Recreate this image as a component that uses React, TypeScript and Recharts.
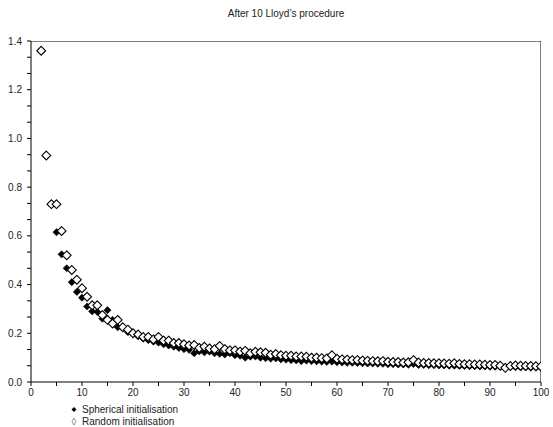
import React from 'react';
import { ScatterChart, Scatter, XAxis, YAxis } from 'recharts';

// iteration count (number of clusters) on the x axis
const iterations = [
  2, 3, 4, 5, 6, 7, 8, 9, 10, 11, 12, 13, 14, 15, 16, 17, 18, 19, 20, 21,
  22, 23, 24, 25, 26, 27, 28, 29, 30, 31, 32, 33, 34, 35, 36, 37, 38, 39, 40, 41,
  42, 43, 44, 45, 46, 47, 48, 49, 50, 51, 52, 53, 54, 55, 56, 57, 58, 59, 60, 61,
  62, 63, 64, 65, 66, 67, 68, 69, 70, 71, 72, 73, 74, 75, 76, 77, 78, 79, 80, 81,
  82, 83, 84, 85, 86, 87, 88, 89, 90, 91, 92, 93, 94, 95, 96, 97, 98, 99, 100
];

const spherical = [
  1.36, 0.93, 0.73, 0.615, 0.524, 0.467, 0.41, 0.37, 0.346, 0.31, 0.29, 0.288, 0.26, 0.295, 0.255, 0.225, 0.22, 0.205, 0.198, 0.188,
  0.178, 0.172, 0.166, 0.162, 0.155, 0.15, 0.145, 0.14, 0.135, 0.132, 0.118, 0.126, 0.122, 0.125, 0.118, 0.116, 0.113, 0.118, 0.11, 0.108,
  0.1, 0.104, 0.105, 0.1, 0.098, 0.096, 0.097, 0.093, 0.092, 0.09, 0.089, 0.086, 0.088, 0.086, 0.085, 0.084, 0.083, 0.084, 0.081, 0.08,
  0.079, 0.079, 0.078, 0.077, 0.076, 0.076, 0.075, 0.075, 0.073, 0.073, 0.072, 0.072, 0.071, 0.074, 0.07, 0.07, 0.069, 0.069, 0.068, 0.068,
  0.067, 0.067, 0.066, 0.066, 0.065, 0.065, 0.064, 0.064, 0.063, 0.063, 0.062, 0.06, 0.061, 0.061, 0.06, 0.06, 0.059, 0.059, 0.058
];

const random = [
  1.36, 0.93, 0.73, 0.73, 0.62, 0.52, 0.46, 0.42, 0.385, 0.35, 0.315, 0.315, 0.275, 0.255, 0.24, 0.255, 0.225, 0.215, 0.2, 0.195,
  0.185, 0.185, 0.175, 0.185, 0.17, 0.17, 0.16, 0.16, 0.155, 0.15, 0.152, 0.14, 0.145, 0.138, 0.135, 0.148, 0.135, 0.13, 0.13, 0.125,
  0.128, 0.118, 0.124, 0.122, 0.12, 0.112, 0.115, 0.11, 0.108, 0.108, 0.105, 0.105, 0.104, 0.1, 0.1, 0.098, 0.097, 0.11, 0.095, 0.093,
  0.092, 0.09, 0.09, 0.088, 0.087, 0.086, 0.085, 0.086, 0.083, 0.082, 0.082, 0.08, 0.081, 0.09, 0.08, 0.078, 0.078, 0.077, 0.077, 0.076,
  0.075, 0.077, 0.074, 0.073, 0.073, 0.072, 0.072, 0.071, 0.07, 0.07, 0.067, 0.058, 0.066, 0.068, 0.067, 0.066, 0.066, 0.065, 0.064
];

// corners of the plot box edges (top-left, top-right, bottom-right) in data units
const frameX = [0, 100, 100];
const frameY = [1.4, 1.4, 0];

const xTicks = [0, 5, 10, 15, 20, 25, 30, 35, 40, 45, 50, 55, 60, 65, 70, 75, 80, 85, 90, 95, 100];
const xLabels = [0, 10, 20, 30, 40, 50, 60, 70, 80, 90, 100];
const yTicks = [
  0, 0.0667, 0.1333, 0.2, 0.2667, 0.3333, 0.4, 0.4667, 0.5333, 0.6, 0.6667, 0.7333,
  0.8, 0.8667, 0.9333, 1.0, 1.0667, 1.1333, 1.2, 1.2667, 1.3333, 1.4
];
const yLabels = [0, 0.2, 0.4, 0.6, 0.8, 1.0, 1.2, 1.4];

const sphericalData = iterations.map((x, i) => ({ x, y: spherical[i] }));
const randomData = iterations.map((x, i) => ({ x, y: random[i] }));
const frameData = frameX.map((x, i) => ({ x, y: frameY[i] }));

const FONT = '"Liberation Sans", Arial, Helvetica, sans-serif';

const diamond = (fill: string, r: number, sw: number) => (props: any) => {
  const { cx, cy } = props;
  if (cx == null || cy == null) return <g />;
  return (
    <polygon
      points={`${cx},${cy - r} ${cx + r},${cy} ${cx},${cy + r} ${cx - r},${cy}`}
      fill={fill}
      stroke="#000"
      strokeWidth={sw}
    />
  );
};

const NoDot = () => <g />;

const XTick = (props: any) => {
  const { x, y, payload } = props;
  if (!xLabels.some(v => Math.abs(v - payload.value) < 1e-6)) return <g />;
  return (
    <text x={x} y={y + 8} textAnchor="middle" fontSize={10} fontFamily={FONT} fill="#222">
      {payload.value}
    </text>
  );
};

const YTick = (props: any) => {
  const { x, y, payload } = props;
  if (!yLabels.some(v => Math.abs(v - payload.value) < 1e-3)) return <g />;
  return (
    <text x={x - 3} y={y + 3.5} textAnchor="end" fontSize={10} fontFamily={FONT} fill="#222">
      {payload.value.toFixed(1)}
    </text>
  );
};

const App: React.FC = () => {
  return (
    <div style={{ position: 'absolute', left: 0, top: 0, width: 553, height: 427, background: '#fff' }}>
      <div style={{
        position: 'absolute', left: 31, width: 510, top: 8, textAlign: 'center',
        fontFamily: FONT, fontSize: 10, color: '#222', lineHeight: '12px'
      }}>
        After 10 Lloyd’s procedure
      </div>
      <div style={{ position: 'absolute', left: 0, top: 0 }}>
        <ScatterChart width={553} height={427} margin={{ top: 41, right: 12, bottom: 25, left: 0 }}>
          <XAxis
            type="number"
            dataKey="x"
            domain={[0, 100]}
            ticks={xTicks}
            tick={<XTick />}
            tickSize={4}
            tickLine={{ stroke: '#000' }}
            axisLine={{ stroke: '#000' }}
            height={20}
            interval={0}
            allowDataOverflow
          />
          <YAxis
            type="number"
            dataKey="y"
            domain={[0, 1.4]}
            ticks={yTicks}
            tick={<YTick />}
            tickSize={4}
            tickLine={{ stroke: '#000' }}
            axisLine={{ stroke: '#000' }}
            width={31}
            interval={0}
            allowDataOverflow
          />
          <Scatter
            name="frame"
            data={frameData}
            line={{ stroke: '#000', strokeWidth: 1 }}
            lineType="joint"
            shape={<NoDot />}
            isAnimationActive={false}
          />
          <Scatter
            name="Spherical initialisation"
            data={sphericalData}
            shape={diamond('#000', 3.6, 0.6)}
            isAnimationActive={false}
          />
          <Scatter
            name="Random initialisation"
            data={randomData}
            shape={diamond('#fff', 4.4, 1.1)}
            isAnimationActive={false}
          />
        </ScatterChart>
      </div>
      <svg width={160} height={26} style={{ position: 'absolute', left: 70, top: 405 }}>
        <polygon points="4,2 6.5,4.5 4,7 1.5,4.5" fill="#000" />
        <text x={12} y={8} fontSize={10} fontFamily={FONT} fill="#222">Spherical initialisation</text>
        <polygon points="4,13 6,16.5 4,20 2,16.5" fill="#fff" stroke="#777" strokeWidth={0.8} />
        <text x={12} y={19.5} fontSize={10} fontFamily={FONT} fill="#222">Random initialisation</text>
      </svg>
    </div>
  );
};

export default App;
